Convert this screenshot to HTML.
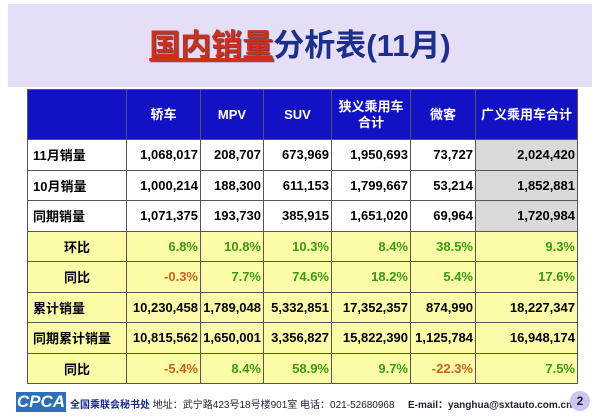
<!DOCTYPE html>
<html><head><meta charset="utf-8"><style>
body{margin:0;width:600px;height:417px;background:#fff;position:relative;overflow:hidden;font-family:"Liberation Sans","Noto Sans CJK SC",sans-serif;}
.band{position:absolute;left:8px;top:4px;width:584px;height:83px;background:#e6ddf7;}
.title{position:absolute;left:0;top:20px;width:600px;text-align:center;font-size:31px;font-weight:bold;color:#1c2f8a;letter-spacing:0px}
.title span{color:#c8321e;text-decoration:underline;text-shadow:1px 1px 1px #6a2a2a}
table{position:absolute;left:27px;top:89px;border-collapse:collapse;table-layout:fixed;width:551px}
td{border:1px solid #555;font-size:13px;font-weight:bold;padding:0 2px;text-align:right;white-space:nowrap;overflow:hidden;box-sizing:border-box;vertical-align:middle}
tr.h td{background:#1212c4;color:#fff;text-align:center;font-size:13px;height:50px;line-height:16px}
tr td{height:30.5px}
td.l{text-align:left;padding-left:5px}
td.c{text-align:center;font-size:13px}
tr.y td{background:#fcfca8}
.g{color:#3a9a10}.o{color:#c8621a}
td.gr{background:#d9d9d9}
.foot{position:absolute;top:388px;left:0;width:600px;height:29px;font-size:10px;font-weight:bold;color:#1a2a8a}
</style></head><body>
<div class="band"></div>
<div class="title"><span>国内销量</span>分析表(11月)</div>
<table>
<colgroup><col style="width:99px"><col style="width:74px"><col style="width:63px"><col style="width:68px"><col style="width:79px"><col style="width:65px"><col style="width:102px"></colgroup>
<tr class="h"><td></td><td>轿车</td><td>MPV</td><td>SUV</td><td>狭义乘用车<br>合计</td><td>微客</td><td>广义乘用车合计</td></tr>
<tr><td class="l">11月销量</td><td>1,068,017</td><td>208,707</td><td>673,969</td><td>1,950,693</td><td>73,727</td><td class="gr">2,024,420</td></tr>
<tr><td class="l">10月销量</td><td>1,000,214</td><td>188,300</td><td>611,153</td><td>1,799,667</td><td>53,214</td><td class="gr">1,852,881</td></tr>
<tr><td class="l">同期销量</td><td>1,071,375</td><td>193,730</td><td>385,915</td><td>1,651,020</td><td>69,964</td><td class="gr">1,720,984</td></tr>
<tr class="y"><td class="c">环比</td><td class="g">6.8%</td><td class="g">10.8%</td><td class="g">10.3%</td><td class="g">8.4%</td><td class="g">38.5%</td><td class="g">9.3%</td></tr>
<tr class="y"><td class="c">同比</td><td class="o">-0.3%</td><td class="g">7.7%</td><td class="g">74.6%</td><td class="g">18.2%</td><td class="g">5.4%</td><td class="g">17.6%</td></tr>
<tr class="y"><td class="l">累计销量</td><td>10,230,458</td><td>1,789,048</td><td>5,332,851</td><td>17,352,357</td><td>874,990</td><td>18,227,347</td></tr>
<tr class="y"><td class="l">同期累计销量</td><td>10,815,562</td><td>1,650,001</td><td>3,356,827</td><td>15,822,390</td><td>1,125,784</td><td>16,948,174</td></tr>
<tr class="y"><td class="c">同比</td><td class="o">-5.4%</td><td class="g">8.4%</td><td class="g">58.9%</td><td class="g">9.7%</td><td class="o">-22.3%</td><td class="g">7.5%</td></tr>
</table>
<div class="foot">
<div style="position:absolute;left:16px;top:4px;width:50px;height:20px;background:#2a6fb8;color:#fff;font-style:italic;font-size:17px;line-height:20px;text-align:center">CPCA</div>
<div style="position:absolute;left:70px;top:8px">全国乘联会秘书处 <span style="font-weight:normal;color:#223">地址：武宁路423号18号楼901室 电话：021-52680968</span></div>
<div style="position:absolute;left:408px;top:8px;color:#223">E-mail：yanghua@sxtauto.com.cn</div>
<div style="position:absolute;left:570px;top:3px;width:20px;height:20px;border-radius:10px;background:#cfc4ef;color:#223;text-align:center;line-height:20px;font-size:12px">2</div>
</div>
</body></html>
